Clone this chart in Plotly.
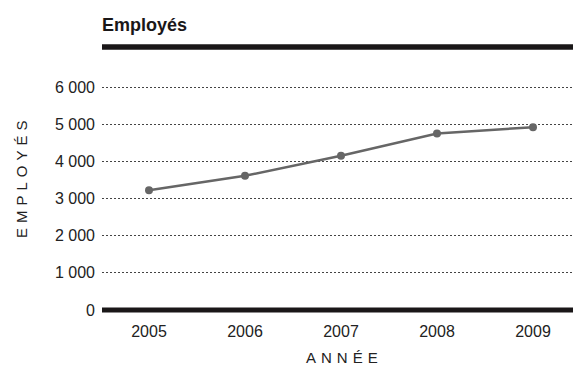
import plotly.graph_objects as go

years = [2005, 2006, 2007, 2008, 2009]
employes = [3220, 3610, 4150, 4750, 4920]
y_ticks = [0, 1000, 2000, 3000, 4000, 5000, 6000]
y_tick_labels = ["0", "1 000", "2 000", "3 000", "4 000", "5 000", "6 000"]

W, H = 573, 366
L, R, T, B = 102, 0, 60, 46
FONT = "Liberation Sans, Arial, Helvetica, sans-serif"

fig = go.Figure()
fig.add_trace(go.Scatter(
    x=years, y=employes, mode="lines+markers",
    line=dict(color="#666666", width=2.5),
    marker=dict(color="#666666", size=8),
    hoverinfo="skip", showlegend=False,
))

# thick zero line
fig.add_shape(type="line", xref="paper", yref="y", x0=0, x1=1, y0=0, y1=0,
              line=dict(color="#1a1718", width=5), layer="above")
# thick top rule
top_y = 1 + (T - 47) / (H - T - B)
fig.add_shape(type="line", xref="paper", yref="paper", x0=0, x1=1, y0=top_y, y1=top_y,
              line=dict(color="#1a1718", width=5.5))

sp = "\u2004"
fig.add_annotation(text="Employés", xref="paper", yref="paper",
                   x=-2 / (W - L - R), xanchor="left",
                   y=1 + (T - 25) / (H - T - B), yanchor="middle", showarrow=False,
                   font=dict(family=FONT, size=18, color="#1a1718", weight="bold"))
fig.add_annotation(text=sp.join("EMPLOYÉS"), xref="paper", yref="paper",
                   x=(21 - L) / (W - L - R), xanchor="center",
                   y=(H - B - 179) / (H - T - B), yanchor="middle", textangle=-90,
                   showarrow=False, font=dict(family=FONT, size=15, color="#222222"))
fig.add_annotation(text=sp.join("ANNÉE"), xref="paper", yref="paper",
                   x=(342 - L) / (W - L - R), xanchor="center",
                   y=-(357 - (H - B)) / (H - T - B), yanchor="middle",
                   showarrow=False, font=dict(family=FONT, size=15, color="#222222"))

px_per_unit = (310 - 87) / 6000.0
ymin = -(H - B - 310) / px_per_unit
ymax = (310 - T) / px_per_unit
px_per_year = 96.0
xmin = 2005 - (149 - L) / px_per_year
xmax = 2005 + (W - R - 149) / px_per_year

fig.update_layout(
    width=W, height=H, margin=dict(l=L, r=R, t=T, b=B),
    paper_bgcolor="white", plot_bgcolor="white",
    font=dict(family=FONT, size=16, color="#222222"),
    xaxis=dict(range=[xmin, xmax], tickvals=years, ticktext=[str(y) for y in years],
               showgrid=False, zeroline=False, showline=False, ticks="",
               ticklabelstandoff=0,
               tickfont=dict(size=16, color="#222222"), fixedrange=True),
    yaxis=dict(range=[ymin, ymax], tickvals=y_ticks, ticktext=y_tick_labels,
               showgrid=True, gridcolor="#444444", gridwidth=1, griddash="2px,2px",
               zeroline=False, showline=False, ticks="", ticklabelstandoff=6,
               tickfont=dict(size=16, color="#222222"), fixedrange=True),
)

fig.write_html("out.html", config={"displayModeBar": False})
